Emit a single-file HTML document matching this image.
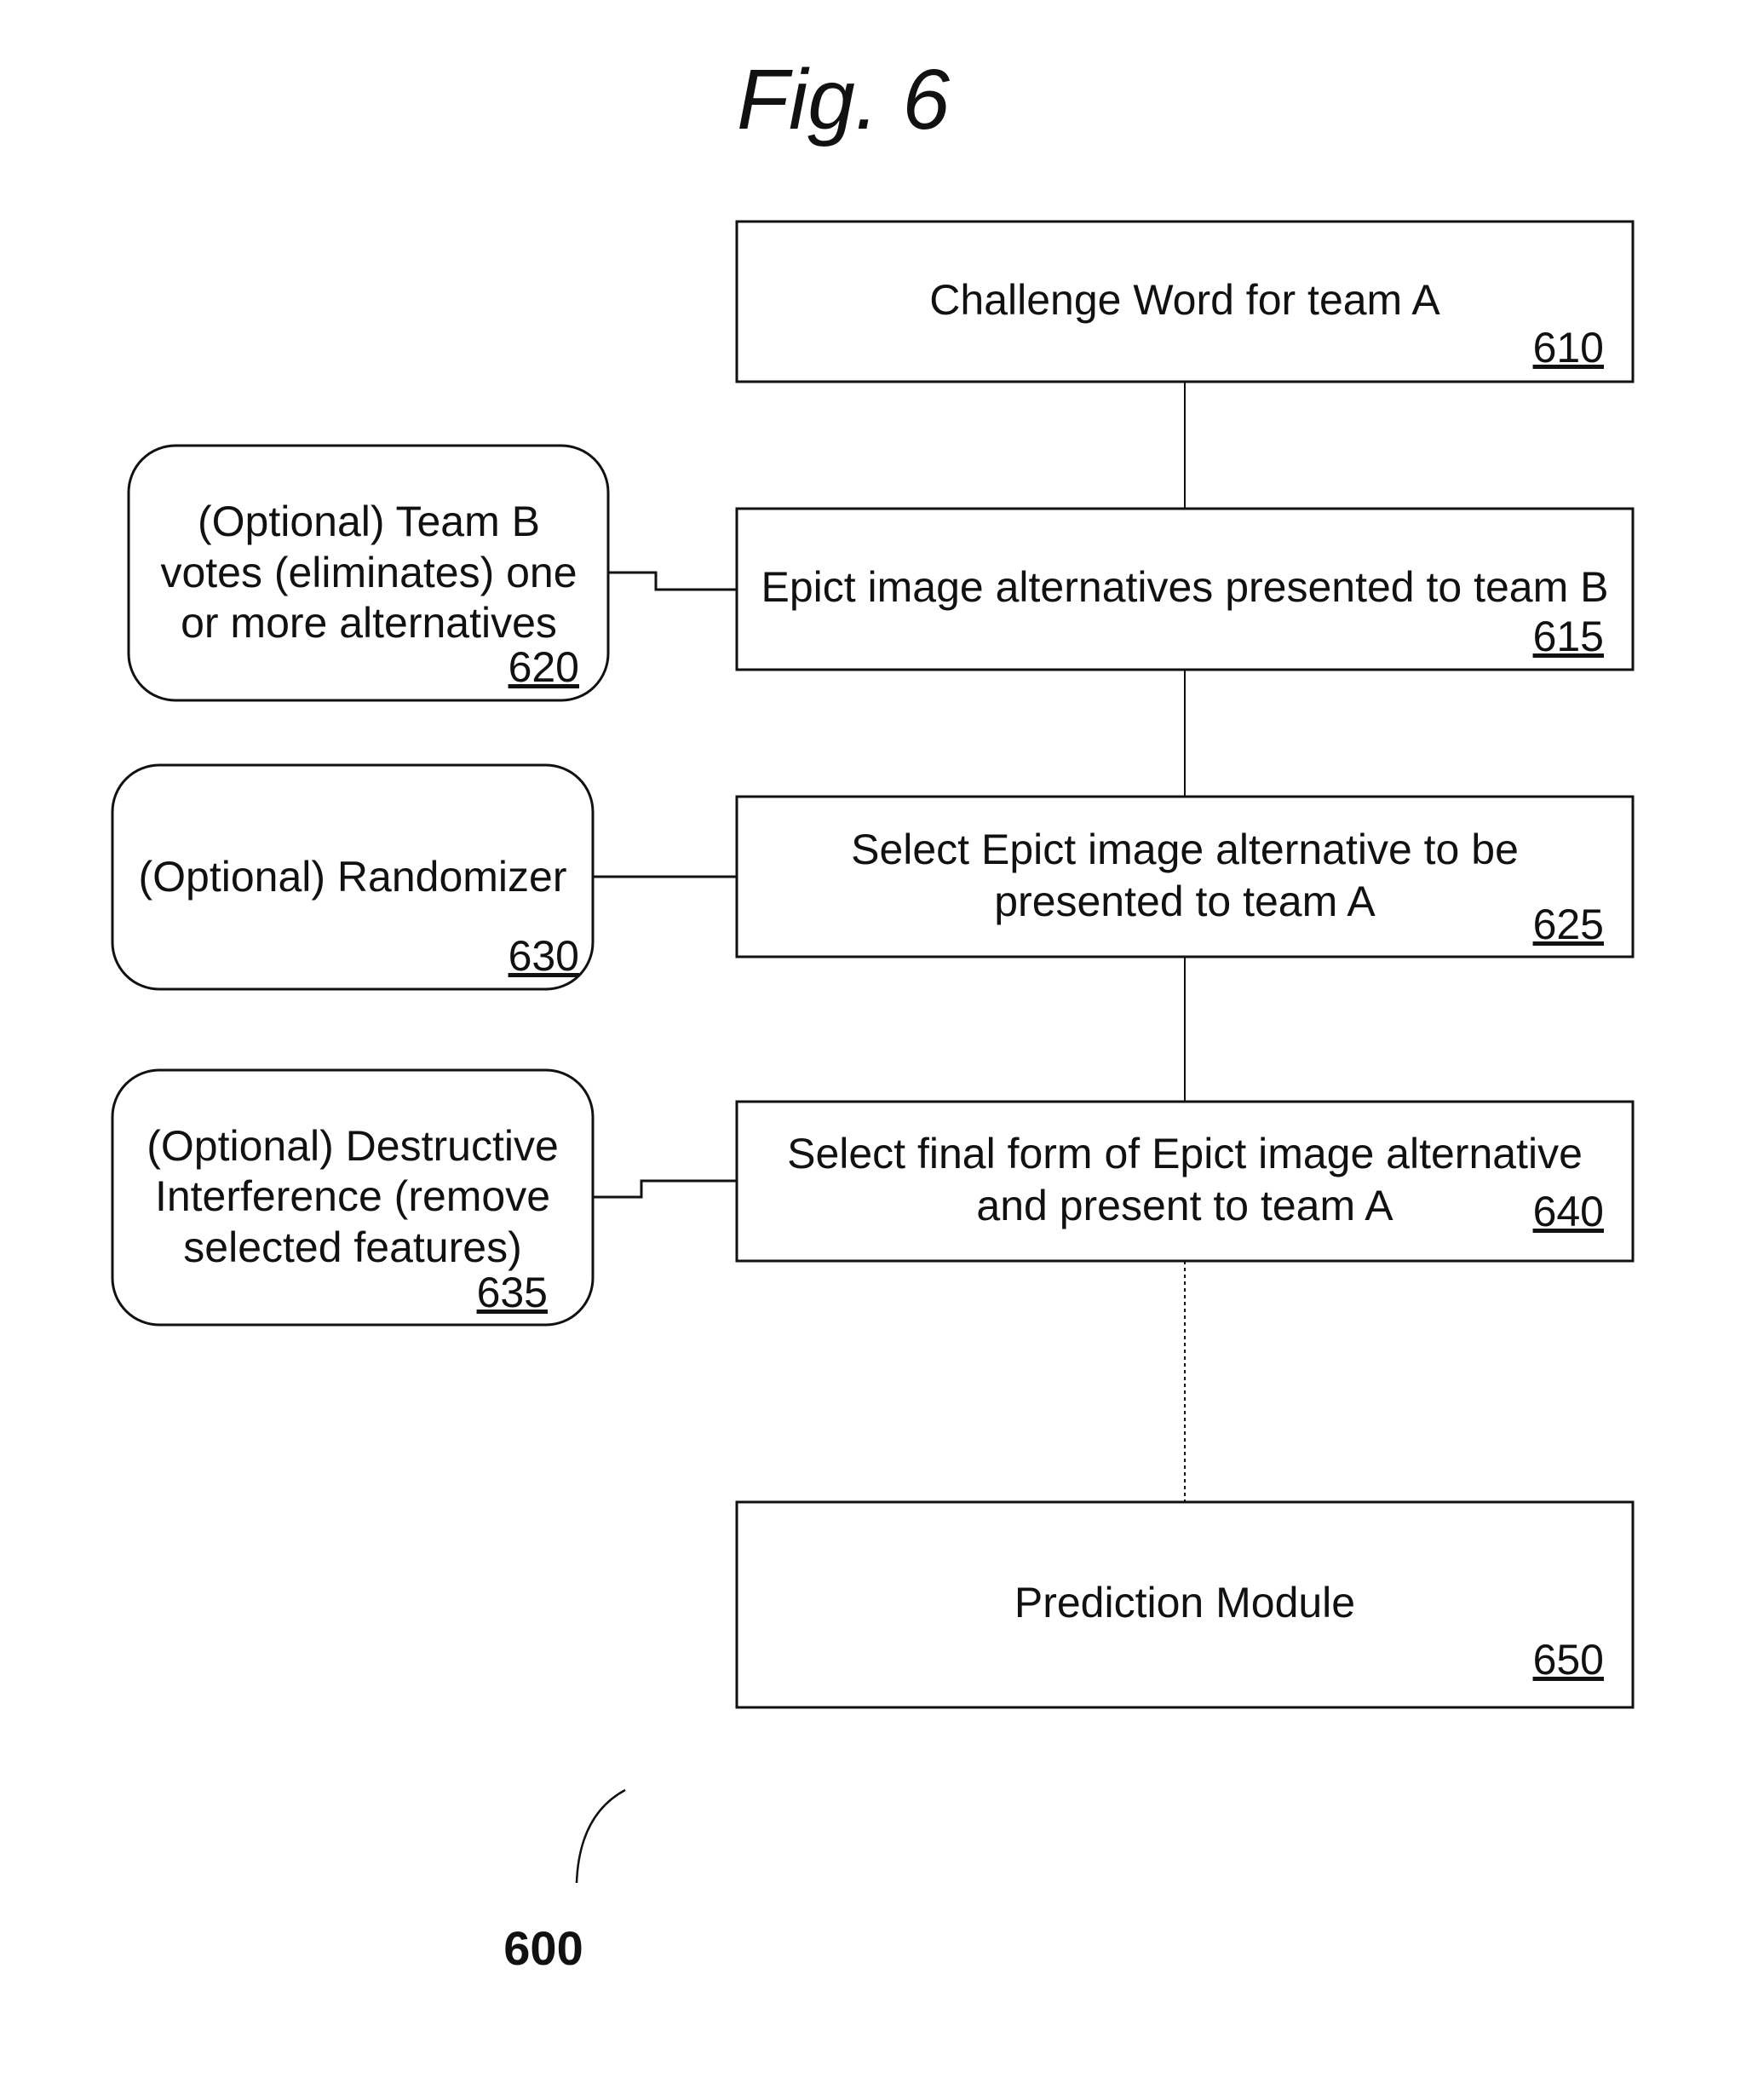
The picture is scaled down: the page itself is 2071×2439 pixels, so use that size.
<!DOCTYPE html>
<html><head><style>html,body{margin:0;padding:0;background:#fff}</style></head>
<body>
<svg width="2071" height="2434" viewBox="0 0 2071 2434" xmlns="http://www.w3.org/2000/svg" font-family="Liberation Sans, Arial, sans-serif" fill="#111">
<text x="990" y="151" font-size="100" font-style="italic" text-anchor="middle">Fig. 6</text>
<g fill="none" stroke="#111" stroke-width="3">
<rect x="865" y="260" width="1052" height="188"/>
<rect x="865" y="597" width="1052" height="189"/>
<rect x="865" y="935" width="1052" height="188"/>
<rect x="865" y="1293" width="1052" height="187"/>
<rect x="865" y="1763" width="1052" height="241"/>
<rect x="151" y="523" width="563" height="299" rx="55"/>
<rect x="132" y="898" width="564" height="263" rx="55"/>
<rect x="132" y="1256" width="564" height="299" rx="55"/>
<line x1="1391" y1="448" x2="1391" y2="597" stroke-width="2"/>
<line x1="1391" y1="786" x2="1391" y2="935" stroke-width="2"/>
<line x1="1391" y1="1123" x2="1391" y2="1293" stroke-width="2"/>
<line x1="1391" y1="1480" x2="1391" y2="1763" stroke-width="2" stroke-dasharray="4,4"/>
<polyline points="714,672 770,672 770,692 865,692"/>
<line x1="696" y1="1029" x2="865" y2="1029"/>
<polyline points="696,1405 753,1405 753,1386 865,1386"/>
<path d="M677,2210 Q680,2130 734,2101" stroke-width="2.5"/>
</g>
<g font-size="50" text-anchor="middle">
<text x="1391" y="369">Challenge Word for team A</text>
<text x="1391" y="706">Epict image alternatives presented to team B</text>
<text x="1391" y="1014">Select Epict image alternative to be</text>
<text x="1391" y="1075">presented to team A</text>
<text x="1391" y="1371">Select final form of Epict image alternative</text>
<text x="1391" y="1432">and present to team A</text>
<text x="1391" y="1898">Prediction Module</text>
<text x="433" y="629">(Optional) Team B</text>
<text x="433" y="689">votes (eliminates) one</text>
<text x="433" y="748">or more alternatives</text>
<text x="414" y="1046">(Optional) Randomizer</text>
<text x="414" y="1362">(Optional) Destructive</text>
<text x="414" y="1421">Interference (remove</text>
<text x="414" y="1481">selected features)</text>
</g>
<g font-size="50" text-anchor="end" text-decoration="underline">
<text x="1883" y="425">610</text>
<text x="1883" y="764">615</text>
<text x="1883" y="1102">625</text>
<text x="1883" y="1439">640</text>
<text x="1883" y="1965">650</text>
<text x="680" y="800">620</text>
<text x="680" y="1139">630</text>
<text x="643" y="1534">635</text>
</g>
<text x="638" y="2306" font-size="56" font-weight="bold" text-anchor="middle">600</text>
</svg>
</body></html>
